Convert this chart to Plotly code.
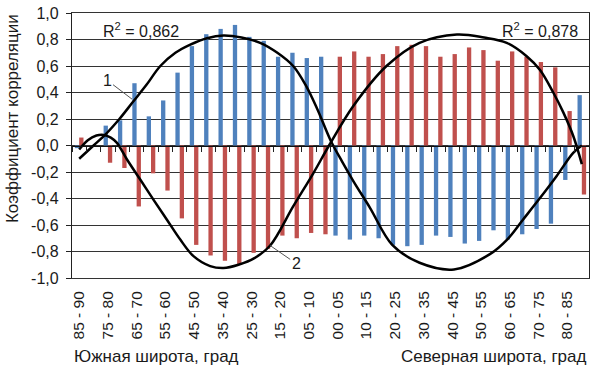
import plotly.graph_objects as go

# ---- data ----
south_labels = ["85 - 90", "80 - 85", "75 - 80", "70 - 75", "65 - 70", "60 - 65", "55 - 60", "50 - 55",
                "45 - 50", "40 - 45", "35 - 40", "30 - 35", "25 - 30", "20 - 25", "15 - 20", "10 - 15",
                "05 - 10", "00 - 05"]
north_labels = ["00 - 05", "05 - 10", "10 - 15", "15 - 20", "20 - 25", "25 - 30", "30 - 35", "35 - 40",
                "40 - 45", "45 - 50", "50 - 55", "55 - 60", "60 - 65", "65 - 70", "70 - 75", "75 - 80",
                "80 - 85", "85 - 90"]
categories = south_labels + north_labels

series1 = [-0.02, None, 0.15, 0.19, 0.47, 0.22, 0.34, 0.55, 0.75, 0.84, 0.88, 0.91, 0.82, 0.79, 0.67, 0.70,
           0.66, 0.67,
           -0.68, -0.71, -0.68, -0.70, -0.75, -0.76, -0.75, -0.68, -0.69, -0.74, -0.72, -0.64, -0.71, -0.67,
           -0.63, -0.59, -0.26, 0.38]
series2 = [0.06, None, -0.13, -0.17, -0.46, -0.21, -0.34, -0.55, -0.75, -0.83, -0.87, -0.90, -0.81, -0.78,
           -0.68, -0.70, -0.66, -0.67,
           0.67, 0.71, 0.67, 0.69, 0.75, 0.76, 0.75, 0.67, 0.69, 0.74, 0.72, 0.64, 0.71, 0.67, 0.63, 0.59,
           0.26, -0.37]

# trend curves (x in category-index units)
trend1_x = [0, 1.0, 1.8, 2.8, 3.75, 4.7, 5.65, 6.7, 7.7, 8.9, 10.05, 11.3, 12.6, 13.8, 14.9, 15.8, 16.6,
            17.5, 18.3, 19.1, 20.25, 21.8, 23.7, 26.1, 28.6, 29.8, 30.9, 32.1, 33.25, 34.4, 35]
trend1_y = [-0.10, 0.0, 0.08, 0.2, 0.33, 0.46, 0.6, 0.7, 0.76, 0.81, 0.83, 0.815, 0.775, 0.7, 0.6, 0.45, 0.27,
            0.04, -0.12, -0.27, -0.47, -0.75, -0.885, -0.935, -0.82, -0.71, -0.56, -0.395, -0.23, -0.055, 0.0]
trend2_x = [0, 0.6, 1.2, 1.7, 2.2, 2.63, 3.33, 4.25, 5.18, 6.11, 7.04, 7.96, 9.12, 10.05, 11.09, 12.2, 13.3,
            14.9, 16.3, 17.4, 19.1, 21.4, 23.7, 26.3, 28.2, 29.77, 31.16, 32.09, 33.01, 33.71, 34.41, 35]
trend2_y = [-0.03, 0.04, 0.075, 0.08, 0.06, 0.02, -0.106, -0.257, -0.41, -0.56, -0.71, -0.835, -0.91, -0.925,
            -0.9, -0.85, -0.755, -0.46, -0.21, 0.0, 0.30, 0.6, 0.775, 0.838, 0.815, 0.775, 0.674, 0.57, 0.40,
            0.25, 0.07, -0.14]

r2_texts = ["R<sup>2</sup> = 0,862", "R<sup>2</sup> = 0,878"]
y_tickvals = [1.0, 0.8, 0.6, 0.4, 0.2, 0.0, -0.2, -0.4, -0.6, -0.8, -1.0]
y_ticktext = ["1,0", "0,8", "0,6", "0,4", "0,2", "0,0", "-0,2", "-0,4", "-0,6", "-0,8", "-1,0"]

BLUE = "#4F81BD"
RED = "#C0504D"
FONT = "Liberation Sans, Arial, sans-serif"
TXT = "#1a1a1a"

x_idx = list(range(len(categories)))

fig = go.Figure()
fig.add_trace(go.Bar(x=x_idx, y=series1, marker=dict(color=BLUE, line=dict(width=0)), name="1"))
fig.add_trace(go.Bar(x=x_idx, y=series2, marker=dict(color=RED, line=dict(width=0)), name="2"))
fig.add_trace(go.Scatter(x=trend1_x, y=trend1_y, mode="lines",
                         line=dict(color="black", width=2.5, shape="spline", smoothing=1.0), hoverinfo="skip"))
fig.add_trace(go.Scatter(x=trend2_x, y=trend2_y, mode="lines",
                         line=dict(color="black", width=2.5, shape="spline", smoothing=1.0), hoverinfo="skip"))
# helper trace for the zero-line tick axis
fig.add_trace(go.Scatter(x=[None], y=[None], xaxis="x2", mode="lines", hoverinfo="skip"))

tick_pos = list(range(0, len(categories) - 1, 2))
tick_txt = [categories[i] for i in tick_pos]

fig.update_layout(
    width=599, height=375,
    margin=dict(l=72, r=10, t=13, b=97),
    paper_bgcolor="white", plot_bgcolor="white",
    showlegend=False,
    barmode="group", bargap=0.4, bargroupgap=0.0,
    font=dict(family=FONT, size=16, color=TXT),
    xaxis=dict(
        range=[-0.5, len(categories) - 0.5], automargin=False,
        tickmode="array", tickvals=tick_pos, ticktext=tick_txt,
        tickangle=-90, ticks="", showgrid=False, zeroline=False,
        showline=True, linecolor="#333", linewidth=1, mirror=True,
        ticklabelstandoff=6,
        tickfont=dict(size=15.5),
    ),
    xaxis2=dict(
        overlaying="x", anchor="free", position=0.5, automargin=False,
        range=[-0.5, len(categories) - 0.5],
        tickmode="linear", tick0=0.5, dtick=1,
        ticks="outside", ticklen=5, tickcolor="#222", tickwidth=1,
        showticklabels=False, showgrid=False, zeroline=False,
        showline=True, linecolor="#111", linewidth=1.3,
    ),
    yaxis=dict(
        range=[-1.0, 1.0], automargin=False,
        tickmode="array", tickvals=y_tickvals, ticktext=y_ticktext,
        ticks="outside", ticklen=5, tickcolor="#222",
        showgrid=True, gridcolor="#333", gridwidth=1,
        zeroline=False,
        showline=True, linecolor="#222", linewidth=1.3, mirror=True,
        ticklabelstandoff=4,
    ),
)

anns = [
    dict(text=r2_texts[0], x=1.55, y=0.875, xref="x", yref="y", xanchor="left", yanchor="middle",
         showarrow=False, font=dict(size=16)),
    dict(text=r2_texts[1], x=29.3, y=0.875, xref="x", yref="y", xanchor="left", yanchor="middle",
         showarrow=False, font=dict(size=16)),
    dict(text="1", x=3.68, y=0.35, xref="x", yref="y", ax=-25, ay=-19, showarrow=True,
         arrowhead=0, arrowwidth=1, arrowcolor="#555", font=dict(size=16)),
    dict(text="2", x=13.3, y=-0.755, xref="x", yref="y", ax=26, ay=18, showarrow=True,
         arrowhead=0, arrowwidth=1, arrowcolor="#555", font=dict(size=16)),
    dict(text="Южная широта, град", x=0.0, y=-0.298, xref="paper", yref="paper",
         xanchor="left", yanchor="middle", showarrow=False, font=dict(size=17)),
    dict(text="Северная широта, град", x=1.0, y=-0.298, xref="paper", yref="paper",
         xanchor="right", yanchor="middle", showarrow=False, font=dict(size=17)),
    dict(text="Коэффициент корреляции", x=-0.116, y=0.6, xref="paper", yref="paper",
         xanchor="center", yanchor="middle", textangle=-90, showarrow=False, font=dict(size=17)),
]
fig.update_layout(annotations=anns)

fig.write_html("out.html", config={"displayModeBar": False},
               post_script="document.body.style.margin='0';")
